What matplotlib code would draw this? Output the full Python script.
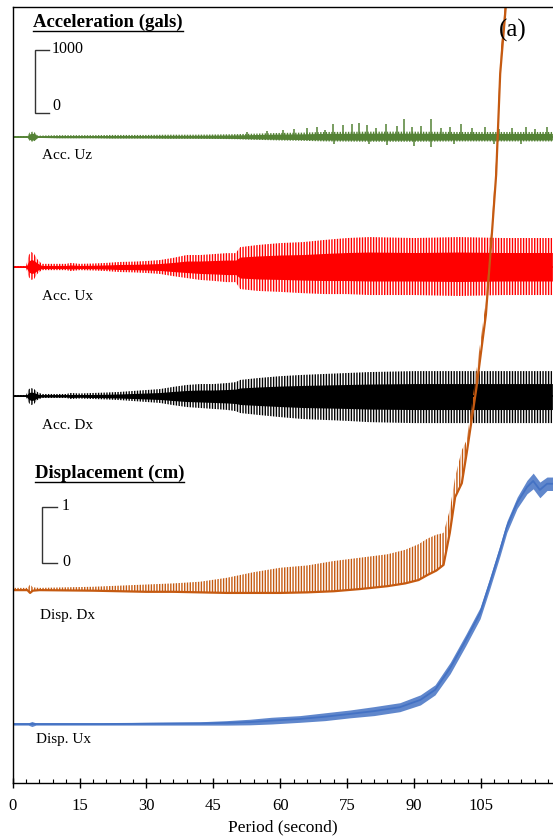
import numpy as np
import matplotlib
matplotlib.use("Agg")
import matplotlib.pyplot as plt
from matplotlib.ticker import MultipleLocator
from matplotlib.lines import Line2D

plt.rcParams["font.family"] = ["Liberation Serif", "DejaVu Serif"]
plt.rcParams["hatch.linewidth"] = 1.0

# ---------------- data ----------------
# Acceleration traces: envelope above (up) and below (dn) the baseline, gals
acc_ux_t = [0, 3.0, 3.6, 4.2, 4.8, 5.5, 6.5, 9, 12, 13, 15, 18, 21, 24, 27, 30, 33, 36, 39,
            42, 45, 48, 50, 51, 55, 60, 65, 70, 75, 80, 90, 100, 110, 121]
acc_ux_up = [16, 16, 190, 240, 205, 125, 50, 50, 50, 65, 50, 55, 65, 80, 85, 95, 110, 145, 190,
             190, 205, 220, 220, 315, 350, 380, 395, 430, 460, 475, 460, 475, 460, 460]
acc_ux_dn = [16, 16, 160, 205, 190, 110, 50, 50, 50, 65, 50, 55, 65, 80, 85, 95, 110, 145, 175,
             205, 220, 240, 240, 350, 380, 395, 415, 430, 430, 445, 445, 460, 445, 445]

acc_dx_t = acc_ux_t
acc_dx_up = [16, 16, 110, 125, 110, 65, 32, 32, 32, 48, 40, 48, 55, 65, 80, 95, 110, 145, 175,
             190, 190, 205, 220, 255, 285, 315, 335, 350, 365, 380, 395, 395, 395, 395]
acc_dx_dn = [16, 16, 110, 145, 125, 65, 32, 32, 32, 48, 40, 48, 55, 65, 80, 95, 110, 145, 175,
             190, 205, 220, 240, 270, 300, 335, 365, 380, 395, 415, 430, 430, 430, 430]

acc_uz_t = [0, 3.2, 3.8, 4.4, 5.0, 5.6, 7, 10, 14, 18, 22, 26, 30, 35, 40, 45, 50, 55, 60,
            65, 70, 80, 90, 100, 110, 121]
acc_uz_up = [11, 11, 65, 80, 65, 16, 19, 24, 24, 24, 28, 28, 28, 32, 32, 35, 40, 50, 60,
             65, 75, 80, 80, 75, 75, 75]
acc_uz_dn = acc_uz_up

# Isolated spikes on the vertical record, gals
uz_spike_t = [52.5, 57, 60.5, 63, 65.9, 68.3, 70, 71.9, 74.1, 76.0, 77.7, 79.4, 81.5, 83.6,
              86.1, 87.8, 89.5, 91.5, 93.8, 96, 98, 100.5, 103, 106, 109, 112, 115, 117, 119.8]
uz_spike_up = [80, 95, 110, 125, 145, 160, 110, 205, 190, 205, 220, 190, 145, 205,
               175, 285, 160, 175, 285, 145, 160, 205, 145, 160, 125, 145, 160, 125, 160]
uz_dip_t = [72, 80, 84, 90, 93.8, 99, 108, 114]
uz_dip_dn = [110, 110, 125, 145, 160, 110, 110, 110]

# Displacement Dx: lower / upper envelope, cm
disp_dx_t = [0, 3.3, 3.9, 4.5, 6, 12, 18, 24, 30, 36, 42, 48, 54, 60, 66, 72, 78, 84, 88, 91,
             93, 95, 96.6, 98.0, 99.2, 100.7, 101.8, 103.9, 106.1, 107.4, 108.4, 109.3, 110.4, 111.4]
disp_dx_lo = [-0.02, -0.02, -0.07, -0.03, -0.02, -0.025, -0.03, -0.04, -0.05, -0.05, -0.06,
              -0.07, -0.07, -0.07, -0.06, -0.04, 0.0, 0.05, 0.1, 0.16, 0.25, 0.33, 0.43, 1.0,
              1.64, 1.89, 2.43, 3.55, 4.9, 6.3, 7.4, 9.2, 10.25, 11.2]
disp_dx_hi = [0.02, 0.02, 0.08, 0.03, 0.02, 0.03, 0.04, 0.06, 0.08, 0.1, 0.13, 0.2, 0.3, 0.38,
              0.42, 0.5, 0.56, 0.62, 0.7, 0.8, 0.9, 0.97, 1.0, 1.41, 2.0, 2.48, 2.66, 3.85,
              5.14, 6.52, 7.68, 9.5, 10.5, 11.45]

# Displacement Ux: centre line and half-width of the noise band, cm
disp_ux_t = [0, 3.5, 4.3, 5.2, 10, 20, 30, 42, 48, 53.2, 58, 64.4, 70, 75.6, 81, 86.8, 91.4,
             94.7, 98.1, 101.6, 104.8, 107.0, 109.3, 110.8, 113.1, 115.3, 116.7, 118.2, 119.8, 121.1]
disp_ux_c = [0, 0, 0, 0, 0, 0, 0.005, 0.01, 0.02, 0.035, 0.06, 0.09, 0.13, 0.18, 0.23, 0.30,
             0.43, 0.61, 1.0, 1.5, 1.98, 2.52, 3.11, 3.52, 3.95, 4.23, 4.34, 4.18, 4.29, 4.29]
disp_ux_hw = [0.02, 0.02, 0.045, 0.02, 0.02, 0.02, 0.025, 0.03, 0.04, 0.05, 0.06, 0.06, 0.07,
              0.07, 0.08, 0.08, 0.09, 0.09, 0.1, 0.1, 0.1, 0.1, 0.1, 0.1, 0.1, 0.12, 0.14,
              0.14, 0.12, 0.12]

x_ticks = [0, 15, 30, 45, 60, 75, 90, 105]

# ---------------- layout ----------------
W, H = 553, 839
AX_L, AX_R, AX_TOP, AX_BOT = 12.7, 553, 7.3, 783.3
PX_PER_S = 4.46
ACC_PX = 0.063      # vertical pixels per gal
DISP_PX = 56.0      # vertical pixels per cm

BASE_UZ, BASE_UX, BASE_DX = 136.7, 267.0, 396.0
BASE_DDX, BASE_DUX = 589.0, 724.0

GREEN, RED, BLACK = "#548235", "#ff0000", "#000000"
ORANGE, BLUE = "#c55a11", "#4472c4"

fig = plt.figure(figsize=(W / 100, H / 100), dpi=100)
ax = fig.add_axes([AX_L / W, (H - AX_BOT) / H, (AX_R - AX_L) / W, (AX_BOT - AX_TOP) / H])
ax.set_xlim(0, (AX_R - AX_L) / PX_PER_S)
ax.set_ylim(AX_BOT, AX_TOP)


def acc_band(t, up, dn, base, color, hatch="||||||", core=0.5):
    t = np.asarray(t, float)
    up = np.asarray(up, float) * ACC_PX
    dn = np.asarray(dn, float) * ACC_PX
    # outer swing drawn as dense vertical strokes, inner swing solid
    ax.fill_between(t, base - up, base + dn, facecolor="none", edgecolor=color,
                    hatch=hatch, lw=0)
    ax.fill_between(t, base - core * up, base + core * dn, color=color, lw=0)
    ax.plot([0, t[-1]], [base, base], color=color, lw=1.3)


acc_band(acc_uz_t, acc_uz_up, acc_uz_dn, BASE_UZ, GREEN, core=0.7)
ax.vlines(uz_spike_t, BASE_UZ, BASE_UZ - np.asarray(uz_spike_up) * ACC_PX, color=GREEN, lw=1.1)
ax.vlines(uz_dip_t, BASE_UZ, BASE_UZ + np.asarray(uz_dip_dn) * ACC_PX, color=GREEN, lw=1.1)
acc_band(acc_ux_t, acc_ux_up, acc_ux_dn, BASE_UX, RED)
acc_band(acc_dx_t, acc_dx_up, acc_dx_dn, BASE_DX, BLACK)

# displacement traces
dux_c = BASE_DUX - np.asarray(disp_ux_c) * DISP_PX
dux_hw = np.asarray(disp_ux_hw) * DISP_PX
ax.fill_between(disp_ux_t, dux_c - dux_hw, dux_c + dux_hw, color=BLUE, alpha=0.85, lw=0)
ax.plot(disp_ux_t, dux_c, color=BLUE, lw=1.3)

ddx_lo = BASE_DDX - np.asarray(disp_dx_lo) * DISP_PX
ddx_hi = BASE_DDX - np.asarray(disp_dx_hi) * DISP_PX
ax.fill_between(disp_dx_t, ddx_lo, ddx_hi, facecolor="none", edgecolor=ORANGE,
                hatch="||||||", lw=0)
ax.plot(disp_dx_t, ddx_lo, color=ORANGE, lw=1.6)


def px_x(p):
    return (p - AX_L) / PX_PER_S


# scale bars
def scale_bar(x0, x1, y0, y1):
    ax.plot([px_x(x1), px_x(x0), px_x(x0), px_x(x1)], [y1, y1, y0, y0],
            color="#333333", lw=1.0, solid_joinstyle="miter")


scale_bar(35, 49, BASE_UZ - 23.7, BASE_UZ - 23.7 - 1000 * ACC_PX)
ax.text(px_x(52), 49, "1000", fontsize=11.5, va="center", ha="left")
ax.text(px_x(52), 106, "0", fontsize=11.5, va="center", ha="left")
scale_bar(42.3, 57.3, 563.3, 563.3 - 1 * DISP_PX)
ax.text(px_x(62), 506, "1", fontsize=11.5, va="center", ha="left")
ax.text(px_x(62), 561.5, "0", fontsize=11.5, va="center", ha="left")

# headings
h1 = ax.text(px_x(33.3), 22.7, "Acceleration (gals)", fontsize=13.5, fontweight="bold",
             va="center", ha="left")
h2 = ax.text(px_x(35), 473, "Displacement (cm)", fontsize=13.5, fontweight="bold",
             va="center", ha="left")

# trace labels
ax.text(px_x(41.7), 155, "Acc. Uz", fontsize=11, va="center", ha="left")
ax.text(px_x(41.7), 296.7, "Acc. Ux", fontsize=11, va="center", ha="left")
ax.text(px_x(41.7), 425, "Acc. Dx", fontsize=11, va="center", ha="left")
ax.text(px_x(40), 615, "Disp. Dx", fontsize=11, va="center", ha="left")
ax.text(px_x(35.7), 740, "Disp. Ux", fontsize=11, va="center", ha="left")
ax.text(px_x(499), 30, "(a)", fontsize=18, va="center", ha="left")

# axes styling
for side in ("left", "top", "bottom"):
    ax.spines[side].set_linewidth(1.0)
    ax.spines[side].set_color("black")
ax.spines["right"].set_visible(False)
ax.set_yticks([])
ax.set_xticks(x_ticks)
ax.xaxis.set_minor_locator(MultipleLocator(3))
ax.tick_params(axis="x", which="major", direction="inout", length=7.2, width=1.0,
               labelsize=12, pad=7)
ax.tick_params(axis="x", which="minor", direction="in", length=2.9, width=0.8)
ax.set_xlabel("Period (second)", fontsize=12.5, labelpad=4)

# underline the two headings
fig.canvas.draw()
inv = fig.transFigure.inverted()
for txt, y_img in ((h1, 30.7), (h2, 481.7)):
    bb = txt.get_window_extent()
    yfig = (H - y_img) / H
    x0 = inv.transform((bb.x0, 0))[0]
    x1 = inv.transform((bb.x1, 0))[0]
    fig.add_artist(Line2D([x0, x1], [yfig, yfig], transform=fig.transFigure,
                          color="black", lw=1.0))

fig.savefig("out.png", dpi=100)
